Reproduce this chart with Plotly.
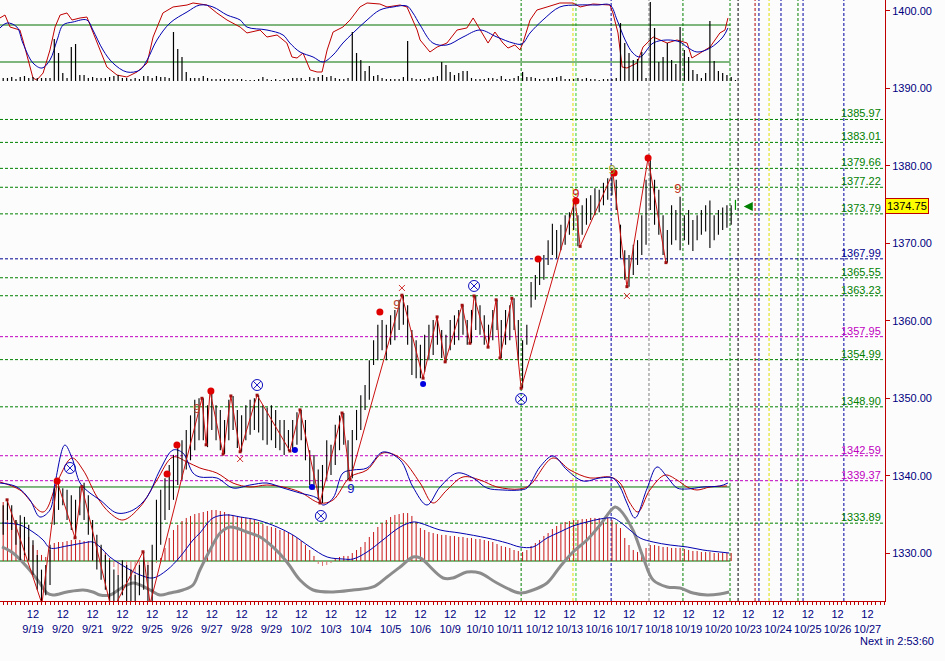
import plotly.graph_objects as go

# ---------------- data ----------------
date_labels = ["9/19", "9/20", "9/21", "9/22", "9/25", "9/26", "9/27", "9/28", "9/29",
               "10/2", "10/3", "10/4", "10/5", "10/6", "10/9", "10/10", "10/11", "10/12",
               "10/13", "10/16", "10/17", "10/18", "10/19", "10/20", "10/23", "10/24",
               "10/25", "10/26", "10/27"]
first_bar_day = -1          # the partially visible 9/18 session
bars_per_day = 7            # hourly bars

# hourly highs / lows, one row per session (9/18 .. 10/20)
bar_high = [
    [1337.5, 1337.0, 1336.2, 1336.9, 1336.2, 1334.3, 1334.9],
    [1334.7, 1333.7, 1331.7, 1329.8, 1327.9, 1328.5, 1331.1],
    [1338.4, 1339.3, 1338.4, 1338.2, 1337.5, 1336.9, 1338.6],
    [1339.1, 1337.5, 1334.3, 1332.4, 1331.1, 1329.8, 1329.1],
    [1327.9, 1327.2, 1329.1, 1328.5, 1327.9, 1327.2, 1328.5],
    [1330.2, 1328.5, 1331.1, 1336.9, 1338.2, 1339.7, 1341.4],
    [1342.7, 1344.0, 1344.6, 1345.9, 1347.8, 1349.8, 1350.0],
    [1350.0, 1349.1, 1350.8, 1349.1, 1348.5, 1347.2, 1349.8],
    [1350.3, 1348.5, 1347.8, 1349.1, 1349.8, 1350.0, 1350.4],
    [1349.1, 1348.8, 1349.1, 1348.5, 1347.2, 1347.2, 1345.9],
    [1347.2, 1348.2, 1348.5, 1347.2, 1343.3, 1342.7, 1340.8],
    [1341.4, 1344.6, 1344.0, 1346.6, 1347.8, 1348.1, 1344.6],
    [1345.9, 1348.5, 1350.4, 1351.7, 1354.9, 1357.5, 1359.5],
    [1360.1, 1359.5, 1360.7, 1361.4, 1362.7, 1363.3, 1362.0],
    [1358.8, 1357.5, 1356.9, 1358.2, 1359.5, 1360.1, 1360.5],
    [1358.8, 1358.2, 1360.1, 1360.7, 1361.4, 1362.0, 1360.1],
    [1361.4, 1363.2, 1362.0, 1360.7, 1359.5, 1361.4, 1362.7],
    [1360.1, 1361.4, 1362.0, 1362.9, 1360.1, 1357.5, 1359.5],
    [1365.0, 1365.9, 1367.6, 1368.5, 1370.4, 1372.5, 1371.7],
    [1372.4, 1373.6, 1374.0, 1375.6, 1373.6, 1374.9, 1375.8],
    [1376.2, 1377.1, 1376.9, 1377.8, 1378.4, 1379.1, 1378.2],
    [1372.4, 1369.1, 1368.5, 1369.8, 1370.4, 1373.6, 1378.2],
    [1381.0, 1378.2, 1376.9, 1373.6, 1371.7, 1374.9, 1374.3],
    [1376.0, 1373.6, 1374.3, 1373.0, 1373.6, 1374.3, 1374.9],
    [1375.5, 1373.6, 1374.3, 1374.6, 1374.9, 1374.9, 1375.6],
]
bar_low = [
    [1333.5, 1333.0, 1332.4, 1334.3, 1333.0, 1331.1, 1329.1],
    [1329.8, 1329.1, 1327.2, 1325.3, 1323.0, 1324.6, 1325.9],
    [1333.7, 1335.6, 1336.2, 1334.3, 1333.0, 1332.0, 1334.9],
    [1334.3, 1332.4, 1329.1, 1327.9, 1326.6, 1325.3, 1322.5],
    [1322.5, 1322.5, 1324.6, 1322.5, 1322.5, 1322.5, 1324.6],
    [1325.3, 1322.5, 1322.5, 1329.1, 1331.1, 1334.3, 1335.6],
    [1336.9, 1338.8, 1339.5, 1340.8, 1342.0, 1343.3, 1344.6],
    [1344.6, 1343.7, 1345.9, 1344.6, 1343.3, 1342.8, 1344.6],
    [1345.9, 1343.6, 1343.1, 1344.6, 1345.3, 1345.9, 1345.6],
    [1344.6, 1344.0, 1344.6, 1343.6, 1343.3, 1342.7, 1343.2],
    [1343.1, 1344.0, 1344.6, 1342.0, 1338.8, 1338.2, 1336.9],
    [1336.5, 1339.5, 1340.1, 1341.4, 1343.3, 1344.0, 1339.5],
    [1339.7, 1344.6, 1345.9, 1348.5, 1349.8, 1354.3, 1354.9],
    [1356.2, 1354.9, 1356.9, 1357.5, 1358.8, 1359.5, 1356.9],
    [1353.0, 1352.6, 1352.6, 1353.4, 1354.9, 1355.6, 1356.9],
    [1355.2, 1354.7, 1356.2, 1356.9, 1357.5, 1358.2, 1356.9],
    [1357.1, 1358.8, 1358.2, 1356.9, 1356.6, 1357.5, 1358.8],
    [1355.2, 1356.9, 1357.5, 1358.8, 1354.9, 1351.3, 1356.9],
    [1361.7, 1362.7, 1364.6, 1365.3, 1367.2, 1368.5, 1368.1],
    [1369.1, 1369.8, 1371.1, 1371.7, 1369.6, 1371.1, 1372.4],
    [1373.0, 1373.6, 1374.0, 1374.9, 1375.6, 1376.2, 1374.3],
    [1368.1, 1365.3, 1364.4, 1365.9, 1367.2, 1368.5, 1369.8],
    [1374.3, 1372.4, 1371.1, 1368.5, 1367.5, 1369.8, 1370.4],
    [1369.1, 1370.4, 1369.8, 1369.0, 1370.4, 1371.1, 1371.5],
    [1369.4, 1370.4, 1371.1, 1371.7, 1372.0, 1372.4, 1374.3],
]
last_price = 1374.75

# MACD-style histogram tops (drawn from the zero line in the lower pane)
hist_zero = 1329.01
macd_hist = [
    [1336.88, 1336.88, 1336.62, 1335.85, 1334.95, 1334.30, 1333.40],
    [1332.75, 1332.11, 1331.07, 1330.43, 1329.79, 1329.53, 1330.43],
    [1331.33, 1331.46, 1331.46, 1331.59, 1331.72, 1331.72, 1331.72],
    [1331.59, 1331.59, 1331.33, 1331.07, 1330.69, 1330.04, 1329.40],
    [1328.24, 1327.21, 1326.82, 1326.56, 1326.56, 1326.56, 1326.56],
    [1326.82, 1327.21, 1327.85, 1328.75, 1329.40, 1330.69, 1331.98],
    [1333.01, 1333.66, 1334.17, 1334.56, 1334.82, 1335.07, 1335.20],
    [1335.33, 1335.46, 1335.59, 1335.59, 1335.46, 1335.33, 1335.07],
    [1334.95, 1334.82, 1334.69, 1334.56, 1334.43, 1334.30, 1334.04],
    [1333.78, 1333.53, 1333.40, 1333.27, 1333.01, 1332.88, 1332.62],
    [1332.37, 1331.98, 1331.59, 1331.07, 1330.43, 1329.66, 1328.62],
    [1328.37, 1328.49, 1328.75, 1329.40, 1329.53, 1329.66, 1329.66],
    [1330.04, 1330.43, 1330.82, 1331.46, 1332.11, 1332.75, 1333.40],
    [1333.91, 1334.30, 1334.69, 1334.95, 1335.07, 1335.20, 1335.20],
    [1334.82, 1334.04, 1333.27, 1333.01, 1332.75, 1332.62, 1332.49],
    [1332.37, 1332.37, 1332.24, 1332.24, 1332.11, 1332.11, 1331.98],
    [1331.98, 1331.85, 1331.85, 1331.72, 1331.59, 1331.46, 1331.20],
    [1330.95, 1330.82, 1330.69, 1330.43, 1330.30, 1330.17, 1330.43],
    [1330.95, 1331.33, 1331.72, 1332.24, 1332.62, 1333.14, 1333.53],
    [1333.78, 1334.04, 1334.17, 1334.30, 1334.30, 1334.43, 1334.43],
    [1334.56, 1334.56, 1334.56, 1334.56, 1334.56, 1334.30, 1333.78],
    [1333.27, 1331.98, 1331.07, 1330.43, 1330.17, 1330.17, 1330.69],
    [1331.07, 1331.07, 1330.95, 1330.82, 1330.82, 1330.69, 1330.69],
    [1330.69, 1330.56, 1330.43, 1330.30, 1330.30, 1330.17, 1330.17],
    [1330.17, 1330.04, 1330.04, 1330.04, 1330.04, 1330.04, None],
]

# volume spikes in the top pane
volume = [
    [3, 3, 3, 3, 4, 2, 4], [5, 3, 4, 3, 3, 3, 3], [42, 28, 8, 3, 34, 37, 6],
    [6, 3, 4, 3, 3, 3, 4], [5, 6, 3, 3, 2, 3, 2], [5, 5, 3, 5, 4, 4, 3],
    [49, 32, 24, 9, 3, 3, 3], [5, 3, 2, 2, 2, 2, 2], [2, 2, 2, 1, 1, 1, 2],
    [4, 2, 1, 2, 1, 2, 2], [3, 3, 3, 0, 4, 3, 4], [6, 4, 5, 3, 2, 2, 3],
    [49, 28, 21, 10, 15, 5, 6], [3, 2, 2, 2, 2, 4, 40], [3, 2, 2, 2, 3, 4, 5],
    [19, 16, 9, 6, 8, 10, 10], [3, 2, 2, 2, 3, 3, 2], [5, 2, 2, 3, 5, 9, 4],
    [4, 3, 2, 2, 3, 3, 4], [5, 2, 2, 2, 3, 2, 3], [2, 2, 1, 2, 2, 2, 3],
    [58, 38, 28, 21, 22, 29, 3], [79, 53, 19, 24, 38, 21, 17],
    [54, 31, 24, 11, 7, 3, 8], [60, 20, 10, 8, 6, 4, 0],
]

# stochastic (top pane), time in trading days from 9/19 noon
stoch_red_t = [-1.11, -0.94, -0.77, -0.44, -0.34, -0.10, 0.0, 0.13, 0.34, 0.57, 0.74, 0.91, 1.14, 1.31,
               1.58, 1.81, 2.01, 2.25, 2.48, 2.82, 3.15, 3.49, 3.83, 4.03, 4.36, 4.70, 5.17, 5.37, 5.84,
               6.17, 6.51, 6.95, 7.18, 7.62, 7.85, 8.19, 8.52, 8.69, 8.86, 9.06, 9.30, 9.53, 9.70, 9.87,
               10.07, 10.40, 10.64, 10.97, 11.21, 11.64, 11.88, 12.32, 12.55, 12.89, 12.99, 13.32, 13.56,
               13.89, 14.23, 14.56, 14.77, 15.0, 15.27, 15.50, 15.77, 15.94, 16.17, 16.34, 16.44, 16.68,
               16.91, 17.25, 17.68, 18.12, 18.36, 18.79, 19.36, 19.46, 19.63, 19.77, 19.93, 20.27, 20.47,
               20.81, 21.28, 21.61, 21.95, 22.11, 22.38, 22.72, 23.05, 23.22, 23.32]
stoch_red = [77.6, 80.8, 67.8, 64.6, 53.8, 24.6, 12.7, 10.5, 18.1, 43.0, 67.8, 80.8, 83.0, 75.4,
             77.6, 78.6, 61.4, 43.0, 24.6, 15.9, 13.8, 19.2, 28.9, 57.0, 83.0, 89.5, 91.6, 93.8, 91.6,
             83.0, 75.4, 67.8, 61.4, 64.6, 57.0, 59.2, 50.5, 35.4, 34.3, 39.7, 21.4, 19.2, 19.2, 43.0,
             62.4, 67.8, 75.4, 89.5, 93.8, 92.7, 89.5, 91.6, 89.5, 64.6, 53.8, 40.8, 46.2,
             50.5, 64.6, 66.8, 77.6, 64.6, 50.5, 62.4, 50.5, 45.1, 48.4, 43.0, 50.5, 75.4,
             86.2, 89.5, 93.8, 93.8, 89.5, 92.7, 91.6, 83.0, 61.4, 24.6, 23.5, 28.9, 46.2,
             57.0, 50.5, 53.8, 50.5, 34.3, 39.7, 46.2, 61.4, 64.6, 77.6]
stoch_blue_t = [-1.11, -0.87, -0.54, -0.34, 0.0, 0.30, 0.57, 0.81, 1.01, 1.34, 1.81, 2.01, 2.35, 2.68,
                3.15, 3.59, 3.83, 4.16, 4.60, 5.17, 5.60, 6.04, 6.51, 6.95, 7.18, 7.85, 8.39, 8.62, 8.96,
                9.40, 9.73, 10.07, 10.40, 10.74, 11.21, 11.64, 12.08, 12.55, 12.75, 12.99, 13.42, 13.89,
                14.43, 15.0, 15.57, 16.11, 16.41, 16.68, 17.11, 17.68, 18.26, 18.93, 19.36, 19.60, 19.87,
                20.13, 20.37, 20.81, 21.28, 21.71, 21.95, 22.28, 22.72, 23.15, 23.32]
stoch_blue = [66.8, 72.2, 67.8, 50.5, 28.9, 23.5, 32.2, 53.8, 70.0, 73.2, 75.4, 64.6, 43.0, 28.9,
              19.2, 21.4, 32.2, 53.8, 72.2, 84.1, 91.6, 89.5, 80.8, 75.4, 67.8, 64.6, 59.2, 50.5, 40.8,
              35.4, 30.0, 37.6, 50.5, 61.4, 75.4, 86.2, 89.5, 90.5, 83.0, 70.0, 50.5, 48.4,
              57.0, 64.6, 57.0, 50.5, 49.5, 61.4, 75.4, 89.5, 91.6, 91.6, 91.6, 75.4, 53.8,
              39.7, 35.4, 50.5, 53.8, 51.6, 46.2, 40.8, 45.1, 57.0, 66.8]
stoch_levels = [70, 30]

# smoothed oscillator pair (lower pane, plotted on the price scale)
osc_blue_t = [-1.11, -0.54, -0.10, 0.23, 0.57, 0.74, 1.07, 1.31, 1.58, 1.91, 2.25, 2.82, 3.36, 3.83,
              4.26, 4.70, 5.03, 5.37, 5.60, 6.17, 6.71, 7.28, 7.85, 8.39, 8.96, 9.53, 9.73, 10.07,
              10.40, 10.74, 11.21, 11.74, 12.32, 12.75, 13.22, 13.66, 14.23, 14.77, 15.23, 15.77,
              16.34, 16.58, 17.01, 17.45, 17.92, 18.46, 19.03, 19.46, 19.70, 19.93, 20.20, 20.60,
              20.94, 21.28, 21.61, 21.95, 22.48, 23.05, 23.32]
osc_blue = [1339.07, 1338.56, 1336.88, 1334.69, 1335.59, 1339.07, 1343.97, 1342.30, 1339.07, 1337.78,
            1336.88, 1335.20, 1335.59, 1337.27, 1340.75, 1343.33, 1342.94, 1340.36, 1339.85, 1339.72,
            1338.43, 1338.81, 1339.07, 1338.43, 1337.78, 1337.14, 1336.23, 1337.14, 1340.36, 1340.75,
            1341.01, 1343.07, 1342.04, 1338.56, 1336.23, 1338.56, 1340.36, 1339.72, 1338.43, 1338.17,
            1338.17, 1338.43, 1341.14, 1342.56, 1340.75, 1339.33, 1339.72, 1339.72, 1338.56, 1336.49,
            1334.56, 1338.30, 1341.14, 1339.85, 1338.43, 1338.30, 1338.56, 1338.69, 1339.07]
osc_red_t = [-1.11, -0.44, 0.34, 0.84, 1.31, 1.68, 2.15, 2.58, 3.02, 3.59, 4.16, 4.70, 5.17, 5.60,
             6.17, 6.71, 7.28, 7.85, 8.39, 8.96, 9.63, 10.07, 10.64, 11.21, 11.74, 12.32, 12.99,
             13.42, 13.89, 14.43, 15.0, 15.57, 16.34, 16.68, 17.45, 18.02, 18.69, 19.36, 19.70,
             20.03, 20.30, 20.70, 21.21, 21.61, 21.95, 22.28, 22.72, 23.29]
osc_red = [1339.20, 1338.17, 1335.33, 1339.46, 1342.30, 1340.75, 1337.27, 1335.20, 1334.30, 1335.98,
           1339.46, 1342.43, 1341.78, 1341.01, 1340.36, 1339.07, 1338.56, 1338.81, 1338.56, 1337.91,
           1336.49, 1336.88, 1339.85, 1340.75, 1342.94, 1342.30, 1339.07, 1336.49, 1338.17, 1339.85,
           1339.46, 1338.56, 1338.30, 1338.81, 1342.30, 1340.75, 1339.72, 1339.85, 1339.07, 1336.49,
           1335.33, 1338.17, 1340.10, 1339.46, 1338.56, 1338.17, 1338.56, 1338.69]
osc_zero = 1338.56

# MACD signal line (blue) and the grey slow line
signal_t = [-1.04, -0.44, 0.0, 0.34, 0.57, 1.14, 1.68, 2.01, 2.25, 2.58, 3.15, 3.59, 4.03, 4.50, 4.93,
            5.37, 5.60, 6.04, 6.51, 6.95, 7.52, 8.19, 8.72, 9.30, 9.87, 10.40, 10.74, 11.21, 11.74,
            12.32, 12.75, 12.99, 13.66, 14.33, 15.23, 15.91, 16.34, 16.78, 17.25, 17.68, 18.12, 18.59,
            19.03, 19.46, 19.70, 20.03, 20.37, 20.81, 21.38, 21.95, 22.48, 23.05, 23.36]
signal = [1333.91, 1333.66, 1332.75, 1331.72, 1330.69, 1330.95, 1331.33, 1331.46, 1330.82, 1329.53,
          1328.11, 1327.21, 1326.82, 1327.85, 1329.53, 1331.72, 1332.62, 1334.56, 1334.95, 1334.69,
          1334.30, 1333.40, 1332.37, 1330.82, 1329.53, 1329.27, 1329.27, 1330.17, 1331.72, 1333.40,
          1334.04, 1333.91, 1333.01, 1332.62, 1331.98, 1331.33, 1330.82, 1330.82, 1331.98, 1332.75,
          1333.53, 1334.04, 1334.43, 1334.56, 1334.04, 1333.01, 1331.98, 1331.46, 1331.07, 1330.82,
          1330.43, 1330.17, 1330.04]
grey_t = [-1.04, -0.67, -0.20, 0.23, 0.47, 0.67, 1.14, 1.68, 2.01, 2.25, 2.58, 3.02, 3.36, 3.59, 3.93,
          4.26, 4.60, 5.03, 5.37, 5.60, 5.94, 6.28, 6.61, 7.18, 7.62, 8.05, 8.52, 8.96, 9.40, 10.07,
          10.74, 11.41, 11.88, 12.32, 12.75, 12.99, 13.76, 14.09, 14.56, 15.0, 15.57, 16.34, 16.78,
          17.25, 17.68, 18.12, 18.59, 19.03, 19.53, 19.70, 20.13, 20.47, 20.81, 21.28, 21.71, 22.15,
          22.62, 23.05, 23.36]
grey = [1330.82, 1330.04, 1328.24, 1326.17, 1324.88, 1324.62, 1325.01, 1325.27, 1325.01, 1324.62,
        1324.62, 1325.66, 1326.17, 1325.92, 1325.27, 1324.62, 1324.88, 1325.27, 1325.92, 1327.85,
        1330.43, 1332.62, 1333.40, 1332.75, 1332.11, 1330.82, 1328.88, 1326.56, 1325.27, 1325.01,
        1325.27, 1325.66, 1326.95, 1328.24, 1329.53, 1329.40, 1326.82, 1326.82, 1327.59, 1327.46,
        1326.17, 1324.88, 1325.27, 1326.17, 1328.24, 1330.17, 1331.72, 1333.66, 1335.98, 1335.59,
        1333.01, 1329.53, 1326.56, 1325.66, 1325.53, 1324.88, 1324.62, 1324.75, 1325.01]

# swing zig-zag
zig_t = [-0.87, 0.30, 0.81, 1.41, 1.64, 2.65, 3.69, 3.93, 5.67, 5.81, 5.94, 6.38, 6.64, 6.95, 7.52,
         8.62, 8.96, 9.63, 10.37, 10.64, 12.38, 13.09, 13.56, 13.83, 14.40, 14.66, 14.80, 15.27,
         15.54, 15.67, 16.07, 16.38, 18.19, 18.36, 19.46, 19.93, 20.64, 21.24]
zig_p = [1336.9, 1323.5, 1339.3, 1332.0, 1338.6, 1322.5, 1330.2, 1323.5, 1350.0, 1344.0, 1350.9,
         1342.8, 1350.3, 1343.1, 1350.4, 1343.2, 1348.5, 1336.5, 1348.1, 1339.5, 1363.3, 1352.6,
         1360.5, 1354.7, 1362.0, 1357.1, 1363.2, 1356.6, 1362.7, 1355.2, 1362.9, 1351.3, 1375.6,
         1369.6, 1379.1, 1364.4, 1381.0, 1367.5]

# signal markers
red_dot_t = [0.81, 4.50, 4.83, 5.97, 11.64, 16.95, 18.22, 19.50, 20.64]
red_dot_p = [1339.33, 1340.23, 1343.97, 1350.94, 1361.13, 1367.97, 1375.45, 1379.06, 1381.0]
blue_dot_t = [8.79, 9.36, 13.09]
blue_dot_p = [1343.33, 1338.56, 1351.84]
cross_t = [1.24, 7.52, 9.66, 14.80, 16.38]
cross_p = [1341.01, 1351.71, 1334.82, 1364.49, 1349.91]
x_mark_t = [6.95, 12.38, 19.93]
x_mark_p = [1342.17, 1364.23, 1363.20]
nine_t = [5.50, 12.21, 18.22, 21.64, 10.67, 19.43]
nine_p = [1348.49, 1361.90, 1376.23, 1376.87, 1338.17, 1379.3]
nine_col = ["#B8442E", "#B8442E", "#D01010", "#C03020", "#1010C0", "#9A9A30"]

# horizontal reference levels
levels = [1385.97, 1383.01, 1379.66, 1377.22, 1373.79, 1367.99, 1365.55, 1363.23,
          1357.95, 1354.99, 1348.90, 1342.59, 1339.37, 1333.89]
level_colors = ["#008000", "#008000", "#008000", "#008000", "#008000", "#000090", "#008000",
                "#008000", "#C000C0", "#008000", "#008000", "#C000C0", "#C000C0", "#008000"]

# vertical time markers (trading days from 9/19 noon)
vline_t = [16.38, 18.12, 18.22, 19.40, 20.67, 21.81, 23.39, 23.66, 24.23, 24.36, 24.70,
           25.10, 25.67, 25.84, 27.21]
vline_colors = ["#008000", "#DDDD00", "#33CC33", "#0000A0", "#808080", "#008000", "#008000",
                "#000000", "#B00000", "#0000A0", "#DDDD00", "#0000A0", "#008000", "#0000A0", "#0000A0"]

price_ticks = [1330, 1340, 1350, 1360, 1370, 1380, 1390, 1400]

# ---------------- figure ----------------
NAVY = "#000080"
AXRED = "#C00000"
FONT = "Liberation Sans, Arial, sans-serif"


def bar_pos(day, j):
    return day + (j - 2) / bars_per_day


fig = go.Figure()

# histogram (as thin vertical strokes)
hp_x, hp_y, hn_x, hn_y = [], [], [], []
for k, row in enumerate(macd_hist):
    d = first_bar_day + k
    for j, v in enumerate(row):
        if v is None:
            continue
        t = bar_pos(d, j)
        if v >= hist_zero:
            hp_x += [t, t, None]
            hp_y += [hist_zero, v, None]
        else:
            hn_x += [t, t, None]
            hn_y += [hist_zero, v, None]
fig.add_trace(go.Scatter(x=hp_x, y=hp_y, mode="lines", line=dict(color="#C81818", width=1)))
fig.add_trace(go.Scatter(x=hn_x, y=hn_y, mode="lines", line=dict(color="#E07070", width=1)))

fig.add_trace(go.Scatter(x=grey_t, y=grey, mode="lines", line=dict(color="#8C8C8C", width=3, shape="spline")))
fig.add_trace(go.Scatter(x=signal_t, y=signal, mode="lines", line=dict(color="#0000B0", width=1, shape="spline")))
fig.add_trace(go.Scatter(x=osc_red_t, y=osc_red, mode="lines", line=dict(color="#C00000", width=1, shape="spline")))
fig.add_trace(go.Scatter(x=osc_blue_t, y=osc_blue, mode="lines", line=dict(color="#0000B0", width=1, shape="spline")))

# volume spikes (own scale, top pane)
vx, vy = [], []
for k, row in enumerate(volume):
    d = first_bar_day + k
    for j, v in enumerate(row):
        t = bar_pos(d, j)
        vx += [t, t, None]
        vy += [0, max(v, 1), None]
fig.add_trace(go.Scatter(x=vx, y=vy, mode="lines", line=dict(color="#000000", width=1.2), yaxis="y3"))

# stochastic (own scale, top pane)
fig.add_trace(go.Scatter(x=stoch_red_t, y=stoch_red, mode="lines", line=dict(color="#C00000", width=1), yaxis="y2"))
fig.add_trace(go.Scatter(x=stoch_blue_t, y=stoch_blue, mode="lines", line=dict(color="#0000B0", width=1, shape="spline"), yaxis="y2"))

# price bars
bx, by, gx, gy = [], [], [], []
n_days = len(bar_high)
for k in range(n_days):
    d = first_bar_day + k
    for j in range(bars_per_day):
        t = bar_pos(d, j)
        if k == n_days - 1 and j == bars_per_day - 1:
            gx += [t, t, None]
            gy += [bar_low[k][j], bar_high[k][j], None]
        else:
            bx += [t, t, None]
            by += [bar_low[k][j], bar_high[k][j], None]
fig.add_trace(go.Scatter(x=bx, y=by, mode="lines", line=dict(color="#000000", width=1.1)))
fig.add_trace(go.Scatter(x=gx, y=gy, mode="lines", line=dict(color="#009000", width=1.2)))

# zig-zag
fig.add_trace(go.Scatter(x=zig_t, y=zig_p, mode="lines+markers",
                         line=dict(color="#CC1010", width=1),
                         marker=dict(symbol="square", size=3, color="#A01010")))

# markers
fig.add_trace(go.Scatter(x=red_dot_t, y=red_dot_p, mode="markers",
                         marker=dict(symbol="circle", size=7, color="#E00000")))
fig.add_trace(go.Scatter(x=blue_dot_t, y=blue_dot_p, mode="markers",
                         marker=dict(symbol="circle", size=6, color="#0000E0")))
fig.add_trace(go.Scatter(x=cross_t, y=cross_p, mode="markers",
                         marker=dict(symbol="circle-x-open", size=11, color="#1010C0",
                                     line=dict(width=1, color="#1010C0"))))
fig.add_trace(go.Scatter(x=x_mark_t, y=x_mark_p, mode="markers",
                         marker=dict(symbol="x-thin-open", size=6, color="#D03030",
                                     line=dict(width=1, color="#D03030"))))
fig.add_trace(go.Scatter(x=nine_t, y=nine_p, mode="text", text=["9"] * len(nine_t),
                         textfont=dict(family=FONT, size=13, color=nine_col)))

shapes = []
x_left, x_right = -1.107, 28.59
data_end = 23.40
for lv, c in zip(levels, level_colors):
    shapes.append(dict(type="line", xref="x", yref="y", x0=x_left, x1=x_right, y0=lv, y1=lv,
                       line=dict(color=c, width=1, dash="3px,2px"), layer="below"))
for t, c in zip(vline_t, vline_colors):
    shapes.append(dict(type="line", xref="x", yref="paper", x0=t, x1=t, y0=0, y1=1,
                       line=dict(color=c, width=1, dash="3px,2px"), layer="below"))
for lv in stoch_levels:
    shapes.append(dict(type="line", xref="x", yref="y2", x0=x_left, x1=data_end, y0=lv, y1=lv,
                       line=dict(color="#007000", width=1), layer="below"))
for lv in (osc_zero, hist_zero):
    shapes.append(dict(type="line", xref="x", yref="y", x0=x_left, x1=data_end, y0=lv, y1=lv,
                       line=dict(color="#007000", width=1), layer="below"))

annotations = []
for lv, c in zip(levels, level_colors):
    annotations.append(dict(xref="paper", yref="y", x=1.0, y=lv, xanchor="right", yanchor="bottom",
                            text=f"{lv:.2f}", showarrow=False, xshift=-2, yshift=-2,
                            font=dict(family=FONT, size=11, color=c)))
annotations.append(dict(xref="paper", yref="y", x=1.0, y=last_price, xanchor="left", yanchor="middle",
                        text=f"{last_price:.2f}", showarrow=False, xshift=0,
                        bgcolor="#FFFF00", bordercolor=AXRED, borderwidth=1, borderpad=1,
                        font=dict(family=FONT, size=11, color="#000000")))
annotations.append(dict(xref="x", yref="y", x=23.85, y=last_price, ax=10, ay=0,
                        showarrow=True, arrowhead=2, arrowsize=1.2, arrowwidth=1.5,
                        arrowcolor="#008000", text=""))
annotations.append(dict(xref="paper", yref="paper", x=1.058, y=-0.067, xanchor="right",
                        yanchor="middle", text="Next in 2:53:60", showarrow=False,
                        font=dict(family=FONT, size=11, color=NAVY)))

all_bar_ticks = [bar_pos(d, j) for d in range(first_bar_day, len(date_labels))
                 for j in range(bars_per_day)]

fig.update_layout(
    width=945, height=661,
    margin=dict(l=0, r=60, t=0, b=60, pad=0, autoexpand=False),
    paper_bgcolor="#FCFCFC", plot_bgcolor="#FCFCFC",
    showlegend=False, hovermode=False,
    shapes=shapes, annotations=annotations,
    xaxis=dict(range=[x_left, x_right], tickmode="array", automargin=False,
               tickvals=list(range(len(date_labels))),
               ticktext=[f"12<br>{d}" for d in date_labels],
               ticks="outside", ticklen=3, tickcolor=AXRED,
               showline=True, linecolor=AXRED, linewidth=1,
               showgrid=False, zeroline=False,
               tickfont=dict(family=FONT, size=11, color=NAVY),
               minor=dict(tickvals=all_bar_ticks, ticks="outside", ticklen=3,
                          tickcolor=AXRED, showgrid=False)),
    yaxis=dict(side="right", range=[1323.85, 1401.38], tickmode="array", automargin=False,
               tickvals=price_ticks, ticktext=[f"{v:.2f}" for v in price_ticks],
               ticks="outside", ticklen=4, tickcolor=AXRED,
               showline=True, linecolor=AXRED, linewidth=1,
               showgrid=False, zeroline=False,
               tickfont=dict(family=FONT, size=11, color=NAVY)),
    yaxis2=dict(overlaying="y", range=[-552.7, 97.03], visible=False, fixedrange=True, automargin=False),
    yaxis3=dict(overlaying="y", range=[-520, 81], visible=False, fixedrange=True, automargin=False),
)

# the page body has a default 8px margin; remove it so the figure sits at the window corner
fig.write_html("out.html", config={"displayModeBar": False},
               post_script="document.body.style.margin='0px';")
